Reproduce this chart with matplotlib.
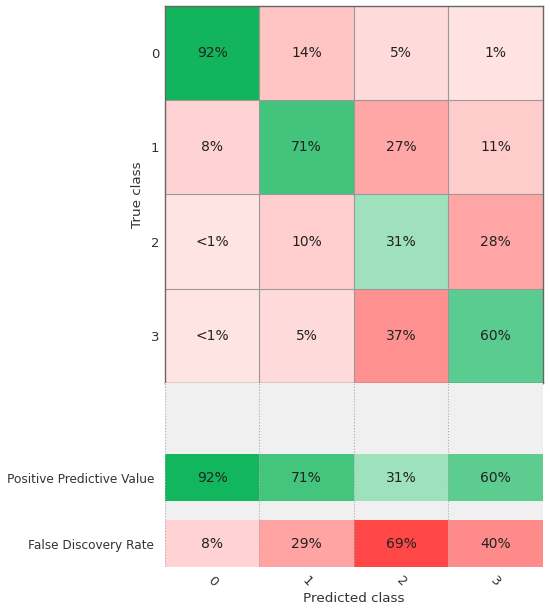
import numpy as np
import matplotlib.pyplot as plt

classes = ["0", "1", "2", "3"]
# column-normalised confusion matrix in percent (rows = true, cols = predicted)
matrix_pct = np.array([
    [92, 14, 5, 1],
    [8, 71, 27, 11],
    [0.4, 10, 31, 28],
    [0.3, 5, 37, 60],
])
ppv_pct = [92, 71, 31, 60]
fdr_pct = [8, 29, 69, 40]
row_labels = ["Positive Predictive Value", "False Discovery Rate"]

GREEN = np.array([0, 176, 80]) / 255
RED = np.array([255, 0, 0]) / 255


def shade(base, pct):
    a = 0.1 + 0.9 * pct / 100.0
    return tuple((1 - a) * np.ones(3) + a * base)


def fmt(pct):
    return "<1%" if pct < 1 else "%d%%" % round(pct)


CELL_FS = 10
fig = plt.figure(figsize=(5.5, 6.11), dpi=100)
ax = fig.add_axes([0.3, 0.3732, 0.6867, 0.617])
ax2 = fig.add_axes([0.3, 0.072, 0.6867, 0.3012])

n = len(classes)
rgb = np.zeros((n, n, 3))
for i in range(n):
    for j in range(n):
        base = GREEN if i == j else RED
        rgb[i, j] = shade(base, matrix_pct[i, j])
        ax.text(j, i, fmt(matrix_pct[i, j]), ha="center", va="center",
                fontsize=CELL_FS, color="#222222")
ax.imshow(rgb, aspect="auto", interpolation="nearest")
ax.set_xticks(np.arange(n - 1) + 0.5, minor=True)
ax.set_yticks(np.arange(n - 1) + 0.5, minor=True)
ax.grid(which="minor", color="#999999", linewidth=0.8)
ax.tick_params(which="both", length=0)
ax.set_xticks([])
ax.set_yticks(np.arange(n))
ax.set_yticklabels(classes, fontsize=9.5, color="#333333")
ax.tick_params(axis="y", pad=4)
ax.set_ylabel("True class", fontsize=9.7, color="#333333", labelpad=5)
for s in ax.spines.values():
    s.set_color("#666666")
    s.set_linewidth(1.0)

# lower panel: PPV and FDR rows
x = np.arange(n)
y_fdr, y_ppv = 0.0, 1.404
ax2.set_facecolor("#f0f0f0")
ax2.barh(y_ppv, 1, left=x - 0.5, height=1,
         color=[shade(GREEN, v) for v in ppv_pct], edgecolor="none")
ax2.barh(y_fdr, 1, left=x - 0.5, height=1,
         color=[shade(RED, v) for v in fdr_pct], edgecolor="none")
for j in range(n):
    ax2.text(j, y_ppv, fmt(ppv_pct[j]), ha="center", va="center",
             fontsize=CELL_FS, color="#222222")
    ax2.text(j, y_fdr, fmt(fdr_pct[j]), ha="center", va="center",
             fontsize=CELL_FS, color="#222222")
for xb in np.arange(n + 1) - 0.5:
    ax2.axvline(xb, color="#aaaaaa", linestyle=":", linewidth=0.8)
ax2.set_xlim(-0.5, n - 0.5)
ax2.set_ylim(-0.5, 3.415)
for s in ax2.spines.values():
    s.set_visible(False)
ax2.set_yticks([y_ppv, y_fdr])
ax2.set_yticklabels(row_labels, fontsize=8.7, color="#333333")
ax2.set_xticks(x)
ax2.set_xticklabels(classes, fontsize=9.5, color="#333333", rotation=-45)
ax2.tick_params(axis="y", length=0, pad=8)
ax2.tick_params(axis="x", length=0, pad=5)
ax2.set_xlabel("Predicted class", fontsize=9.7, color="#333333", labelpad=2)

fig.savefig("out.png", dpi=100)
